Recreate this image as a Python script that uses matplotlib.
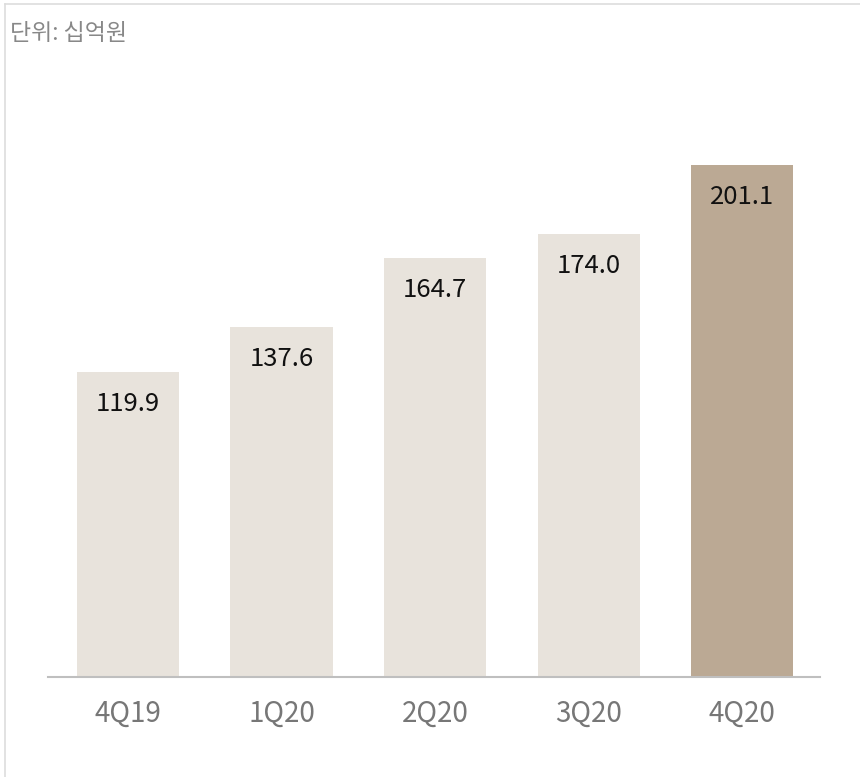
import matplotlib
matplotlib.use("Agg")
import matplotlib.pyplot as plt
from matplotlib.lines import Line2D

plt.rcParams['font.family'] = ['Noto Sans CJK KR', 'DejaVu Sans']

categories = ["4Q19", "1Q20", "2Q20", "3Q20", "4Q20"]
values = [119.9, 137.6, 164.7, 174.0, 201.1]
labels = ["119.9", "137.6", "164.7", "174.0", "201.1"]
unit_text = "단위: 십억원"

light = "#E8E3DC"
dark = "#BBA994"
colors = [light, light, light, light, dark]

W, H = 860, 777
fig = plt.figure(figsize=(W/100, H/100), dpi=100)
ax = fig.add_axes([48/W, 100/H, (820-48)/W, 611/H])

x = list(range(len(categories)))
ax.bar(x, values, width=0.665, color=colors, zorder=2)
ax.set_xlim(-0.52, 4.505)
ax.set_ylim(0, 240)

for xi, v, lab in zip(x, values, labels):
    ax.text(xi, v - 12.5, lab, ha='center', va='center', fontsize=18.5, color='#111111')

ax.set_xticks(x)
ax.set_xticklabels(categories, fontsize=20, color='#777777')
ax.tick_params(axis='x', length=0, pad=16)
ax.set_yticks([])
for s in ['top', 'right', 'left']:
    ax.spines[s].set_visible(False)
ax.spines['bottom'].set_color('#BFBFBF')
ax.spines['bottom'].set_linewidth(1.5)

fig.text(10/W, 1 - 33/H, unit_text, ha='left', va='center', fontsize=16.5, color='#888888')

# light frame lines at top and left
fig.add_artist(Line2D([5/W, 1], [1 - 4/H, 1 - 4/H], color='#DDDDDD', lw=1.2, transform=fig.transFigure))
fig.add_artist(Line2D([5/W, 5/W], [0, 1 - 4/H], color='#DDDDDD', lw=1.2, transform=fig.transFigure))

fig.savefig("out.png", dpi=100)
